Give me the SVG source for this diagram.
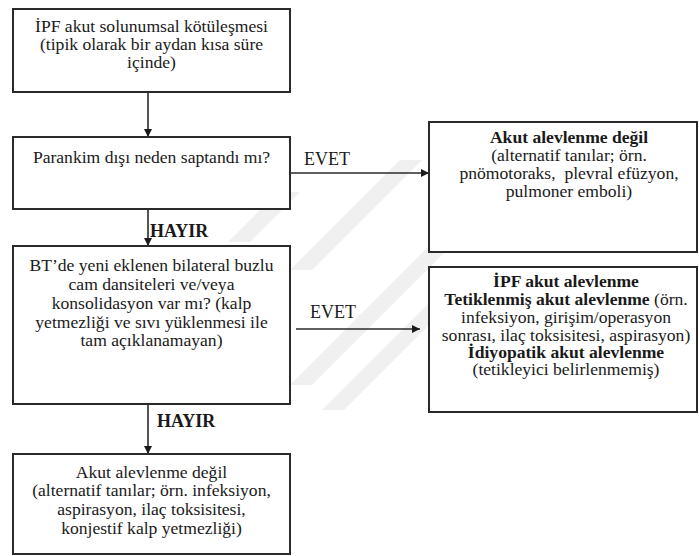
<svg xmlns="http://www.w3.org/2000/svg" width="699" height="556" viewBox="0 0 699 556">
<style>
.box{fill:#fff;stroke:#2a2a2a;stroke-width:2}
.t{font-family:'Liberation Serif','Times New Roman',serif;font-size:16px;fill:#1a1a1a;text-anchor:middle}
.b{font-weight:bold}
.lbl{font-family:'Liberation Serif','Times New Roman',serif;font-size:18px;fill:#1a1a1a}
.ln{stroke:#2a2a2a;stroke-width:1.6;fill:none}
.wm{fill:#f0f0f0}
</style>
<defs>
<marker id="ah" viewBox="0 0 10 10" refX="10" refY="5" markerWidth="8" markerHeight="8" markerUnits="userSpaceOnUse" orient="auto">
<path d="M0,0 L10,5 L0,10 z" fill="#1a1a1a"/>
</marker>
</defs>
<rect width="699" height="556" fill="#fff"/>
<g id="watermark">
<polygon class="wm" points="290,385 312,385 452,245 430,245"/>
<polygon class="wm" points="322,410 344,410 454,300 432,300"/>
<polygon class="wm" points="290,270 312,270 422,160 400,160"/>
<polygon class="wm" points="228,242 250,242 300,192 278,192"/>
</g>
<g id="connectors">
<line class="ln" x1="148" y1="92" x2="148" y2="137" marker-end="url(#ah)"/>
<line class="ln" x1="148" y1="209" x2="148" y2="246" marker-end="url(#ah)"/>
<line class="ln" x1="148" y1="404" x2="148" y2="454" marker-end="url(#ah)"/>
<line class="ln" x1="290" y1="173" x2="429" y2="173" marker-end="url(#ah)"/>
<line class="ln" x1="296" y1="329" x2="420" y2="329" marker-end="url(#ah)"/>
<text class="lbl b" x="150" y="237">HAYIR</text>
<text class="lbl b" x="157" y="427">HAYIR</text>
<text class="lbl" x="304" y="165" font-size="19">EVET</text>
<text class="lbl" x="310" y="318" font-size="19">EVET</text>
</g>
<g id="n1">
<rect class="box" x="13" y="9" width="277" height="83"/>
<g transform="translate(151.5,0) scale(1.1,1)">
<text class="t" x="0" y="32">İPF akut solunumsal kötüleşmesi</text>
<text class="t" x="0" y="50">(tipik olarak bir aydan kısa süre</text>
<text class="t" x="0" y="68">içinde)</text>
</g>
</g>
<g id="n2">
<rect class="box" x="13" y="137" width="277" height="72"/>
<g transform="translate(151.5,0) scale(1.1,1)">
<text class="t" x="0" y="163">Parankim dışı neden saptandı mı?</text>
</g>
</g>
<g id="n3">
<rect class="box" x="13" y="246" width="277" height="158"/>
<g transform="translate(151.5,0) scale(1.1,1)">
<text class="t" x="0" y="271">BT’de yeni eklenen bilateral buzlu</text>
<text class="t" x="0" y="290">cam dansiteleri ve/veya</text>
<text class="t" x="0" y="309">konsolidasyon var mı? (kalp</text>
<text class="t" x="0" y="328">yetmezliği ve sıvı yüklenmesi ile</text>
<text class="t" x="0" y="346">tam açıklanamayan)</text>
</g>
</g>
<g id="n4">
<rect class="box" x="13" y="454" width="277" height="100"/>
<g transform="translate(151.5,0) scale(1.1,1)">
<text class="t" x="0" y="478">Akut alevlenme değil</text>
<text class="t" x="0" y="496">(alternatif tanılar; örn. infeksiyon,</text>
<text class="t" x="0" y="515">aspirasyon, ilaç toksisitesi,</text>
<text class="t" x="0" y="534">konjestif kalp yetmezliği)</text>
</g>
</g>
<g id="n5">
<rect class="box" x="429" y="122" width="268" height="130"/>
<g transform="translate(569,0) scale(1.1,1)">
<text class="t b" x="0" y="143">Akut alevlenme değil</text>
<text class="t" x="0" y="161">(alternatif tanılar; örn.</text>
<text class="t" x="0" y="179" xml:space="preserve">pnömotoraks,  plevral efüzyon,</text>
<text class="t" x="0" y="197">pulmoner emboli)</text>
</g>
</g>
<g id="n6">
<rect class="box" x="429" y="267" width="268" height="145"/>
<g transform="translate(566,0) scale(1.1,1)">
<text class="t b" x="0" y="287">İPF akut alevlenme</text>
<text class="t" x="0" y="305"><tspan class="b">Tetiklenmiş akut alevlenme</tspan> (örn.</text>
<text class="t" x="0" y="323">infeksiyon, girişim/operasyon</text>
<text class="t" x="0" y="341">sonrası, ilaç toksisitesi, aspirasyon)</text>
<text class="t b" x="0" y="358">İdiyopatik akut alevlenme</text>
<text class="t" x="0" y="375">(tetikleyici belirlenmemiş)</text>
</g>
</g>
</svg>
